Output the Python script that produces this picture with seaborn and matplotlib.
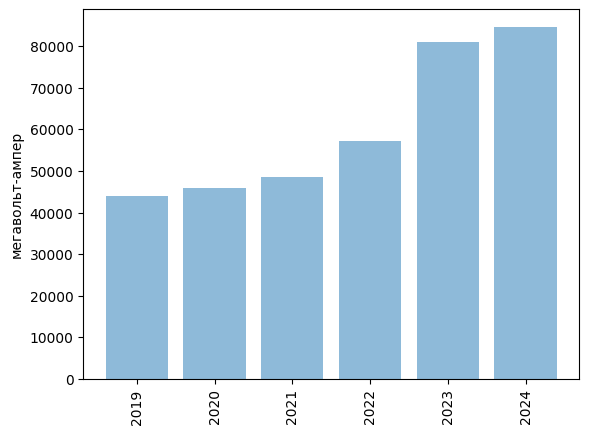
import seaborn as sns
import pandas as pd
import matplotlib.pyplot as plt

# Yearly values (MVA)
years = ["2019", "2020", "2021", "2022", "2023", "2024"]
values = [44000, 45900, 48600, 57300, 81000, 84600]

df = pd.DataFrame({"year": years, "value": values})

fig, ax = plt.subplots(figsize=(6.4, 4.8))
sns.barplot(data=df, x="year", y="value", color="#1f77b4", alpha=0.5,
            saturation=1, width=0.8, ax=ax)
ax.set_xlim(-0.69, 5.69)
ax.set_ylim(0, max(values) * 1.05)
ax.set_xlabel("")
ax.set_ylabel("мегавольт-ампер")
plt.xticks(rotation=90)
plt.savefig("out.png", dpi=100, bbox_inches="tight")
